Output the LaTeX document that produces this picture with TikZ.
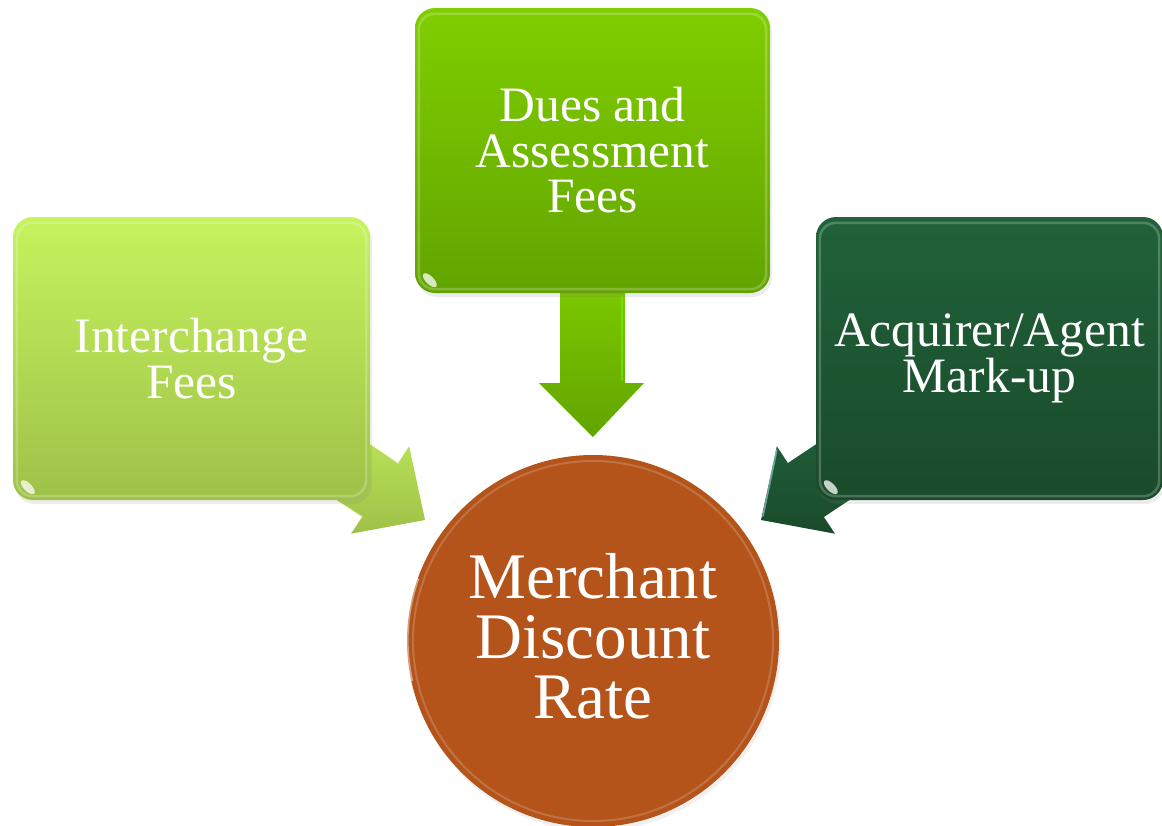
\documentclass[tikz,border=0pt]{standalone}
\usepackage{fontspec}
\setmainfont{Liberation Serif}
\usetikzlibrary{calc,shadows}
\definecolor{limeTop}{HTML}{C6F35E}
\definecolor{limeBot}{HTML}{9EC148}
\definecolor{grassTop}{HTML}{80CE00}
\definecolor{grassBot}{HTML}{62A400}
\definecolor{pineTop}{HTML}{20623A}
\definecolor{pineBot}{HTML}{1A4A2A}
\definecolor{rust}{HTML}{B4541A}
\begin{document}
\begin{tikzpicture}[x=1pt,y=-1pt,
  feebox/.style={rounded corners=20pt, minimum width=#1, minimum height=283pt,
    inner sep=0pt, text=white, align=center,
    font=\fontsize{49.5}{45.5}\selectfont,
    drop shadow={opacity=0.15, shadow xshift=2pt, shadow yshift=-4pt}},
  gloss/.style={draw=white, opacity=0.22, line width=2.5pt, rounded corners=16pt},
  glint/.style={fill=white, opacity=0.75},
  blockarrow/.style={draw=none},
  rim/.style={line width=1.6pt, opacity=0.55, line cap=round}
]
\useasboundingbox (0,0) rectangle (1162,825);

% block arrows (drawn first, their tails sit under the boxes)
\shade[blockarrow, top color=limeTop!80!limeBot, bottom color=limeBot]
  (331.5,418.6) -- (398.1,463) -- (409.2,446.3) -- (425,520) -- (351,533.7)
  -- (362.1,517) -- (295.5,472.6) -- cycle;
\draw[rim, white!80!limeTop] (372,444) -- (398.1,463);
\draw[rim, white!80!limeTop] (340,503) -- (362.1,517);

\shade[blockarrow, top color=grassTop!90!grassBot, bottom color=grassBot]
  (560,280) -- (625,280) -- (625,383) -- (644,383) -- (593,437) -- (539,383)
  -- (560,383) -- cycle;
\draw[rim, green!60!yellow] (622,296) -- (622,380);

\shade[blockarrow, top color=pineTop, bottom color=pineBot]
  (854.5,418.6) -- (787.9,463) -- (776.8,446.3) -- (761,520) -- (835,533.7)
  -- (823.9,517) -- (890.5,472.6) -- cycle;
\draw[rim, cyan!30!white] (776.8,450) -- (763,516);

% the three fee boxes
\node[feebox=357pt, top color=limeTop, bottom color=limeBot] (ifees)
  at (191.5,358.5) {Interchange\\Fees};
\node[feebox=355pt, minimum height=285pt, top color=grassTop, bottom color=grassBot] (dues)
  at (592.5,150.5) {Dues and\\Assessment\\Fees};
\node[feebox=347pt, top color=pineTop, bottom color=pineBot] (markup)
  at (989.5,358.5) {Acquirer/Agent\\Mark-up};

\foreach \b in {ifees,dues,markup}{
  \draw[gloss] ($(\b.north west)+(4,6)$) rectangle ($(\b.south east)+(-4,-4)$);
  \fill[glint] ($(\b.south west)+(15,-13)$) ellipse [x radius=9pt, y radius=4pt, rotate=-45];
}

% the rate disc
\node[circle, minimum size=372pt, inner sep=0pt, fill=rust,
  drop shadow={opacity=0.12, shadow xshift=2pt, shadow yshift=-4pt}] (mdr) at (593,641) {};
\draw[white, opacity=0.18, line width=2pt] (mdr.center) circle[radius=180pt];
\draw[white, opacity=0.45, line width=2.5pt] ($(mdr.center)+(-181,40)$)
  arc[start angle=193, end angle=160, radius=181pt];
\node[text=white, align=center, inner sep=0pt,
  font=\fontsize{65}{60}\selectfont] (mdrtext) at (593,636) {Merchant\\Discount\\Rate};
\end{tikzpicture}
\end{document}
